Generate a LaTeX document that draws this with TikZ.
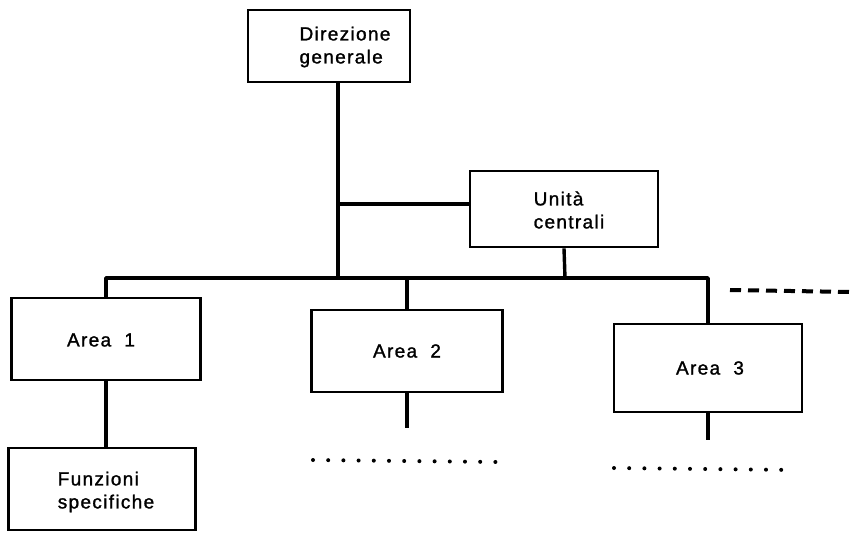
\documentclass[tikz,border=0pt]{standalone}
\usepackage{fontspec}
\setmainfont{Liberation Sans}[LetterSpace=7,FakeBold=1.3]
\begin{document}
\begin{tikzpicture}[x=1pt,y=-1pt,
  unit/.style={draw,line width=2.6pt,fill=white,inner sep=0pt},
  caption/.style={align=left,inner sep=0pt,font=\fontsize{19}{23}\selectfont},
  link/.style={line width=3.4pt},
  more/.style={line width=4pt,line cap=round,dash pattern=on 0pt off 15.2pt},
  cont/.style={line width=4pt,dash pattern=on 11pt off 7pt}]
\useasboundingbox (0,0) rectangle (852,533);
% boxes
\node[unit,minimum width=162pt,minimum height=72pt] (dg) at (329,46) {};
\node[unit,minimum width=188pt,minimum height=76pt] (uc) at (564,209) {};
\node[unit,minimum width=189pt,minimum height=82pt] (a1) at (106,339) {};
\node[unit,minimum width=187pt,minimum height=82pt] (fs) at (102,489) {};
\node[unit,minimum width=191pt,minimum height=82pt] (a2) at (407,351) {};
\node[unit,minimum width=188pt,minimum height=88pt] (a3) at (708,368) {};
% box texts
\node[caption] (dgt) at (345,47) {Direzione\\generale};
\node[caption] (uct) at (569,210) {Unità\\centrali};
\node[caption] (a1t) at (101,340) {Area\ \ 1};
\node[caption] (fst) at (106,492) {Funzioni\\specifiche};
\node[caption] (a2t) at (407,351) {Area\ \ 2};
\node[caption] (a3t) at (710,368) {Area\ \ 3};
% bus and junctions
\coordinate (trunk) at (338,278);
\coordinate (side) at (338,204);
\coordinate (b1) at (106,278);
\coordinate (b2) at (407,278);
\coordinate (b3) at (708,278);
\coordinate (bu) at (565,278);
\coordinate (d0) at (730,290);
\coordinate (d1) at (852,292);
\draw[link] ([xshift=9pt]dg.south) -- (trunk);
\draw[link] (side) -- (uc.west |- side);
\draw[link] (uc.south) -- (bu);
\draw[link,line join=round] (a1.north) -- (b1) -- (b3) -- (a3.north);
\draw[link] (b2) -- (a2.north);
\draw[cont] (d0) -- (d1);
% lower levels
\draw[link] (a1.south) -- (fs.north -| a1.south);
\coordinate (e2) at (407,428);
\coordinate (e3) at (708,440);
\draw[link] (a2.south) -- (e2);
\draw[link] (a3.south) -- (e3);
\coordinate (p2a) at (313,460);
\coordinate (p2b) at (497,462);
\coordinate (p3a) at (614,468);
\coordinate (p3b) at (796,470);
\draw[more] (p2a) -- (p2b);
\draw[more] (p3a) -- (p3b);
\end{tikzpicture}
\end{document}
